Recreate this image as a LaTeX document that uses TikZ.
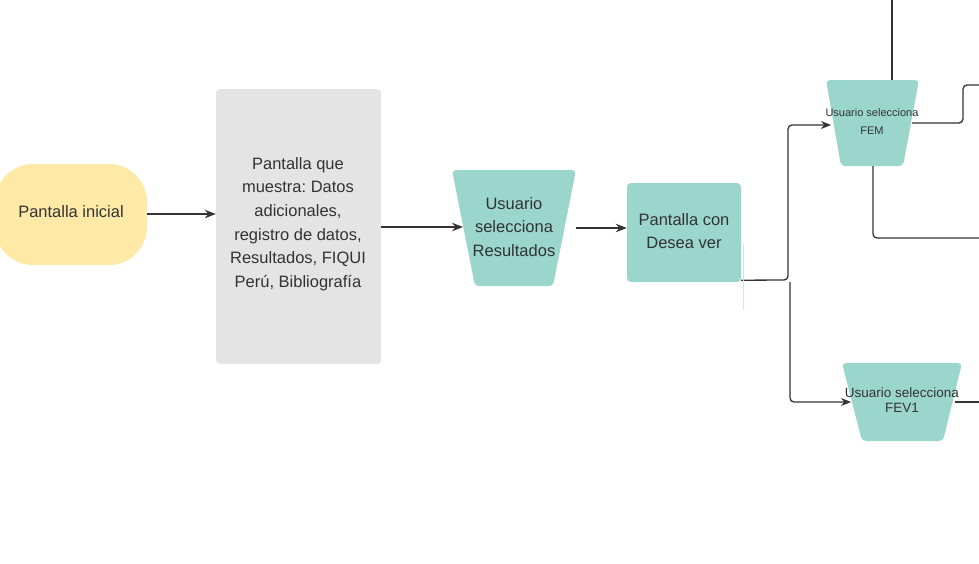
\documentclass[tikz,border=0pt]{standalone}
\usepackage{fontspec}
\setmainfont{Liberation Sans}
\usetikzlibrary{arrows.meta}
\definecolor{teal1}{HTML}{9AD6CB}
\definecolor{yell}{HTML}{FFE9A6}
\definecolor{grayb}{HTML}{E4E4E4}
\definecolor{ink}{HTML}{333333}
\frenchspacing
\tikzset{
  txt/.style={text=ink, align=center, inner sep=0pt, font=\fontsize{16.5}{23.6}\selectfont},
  small/.style={text=ink, align=center, inner sep=0pt, font=\fontsize{11}{18}\selectfont},
  mid/.style={text=ink, align=center, inner sep=0pt, font=\fontsize{13.5}{15}\selectfont},
  boxx/.style={rectangle, rounded corners=4pt, inner sep=0pt},
  trapfill/.style={fill=teal1, rounded corners=4pt},
  line/.style={draw=ink, line width=1.5pt},
  arr/.style={line, -{Stealth[length=11pt,width=8.5pt]}},
  thinarr/.style={draw=ink, line width=1.3pt, -{Stealth[length=10pt,width=8pt]}},
}
\begin{document}
\begin{tikzpicture}[x=1pt,y=-1pt]
\useasboundingbox (0,0) rectangle (979,563);
\clip (0,0) rectangle (979,563);
\fill[white] (0,0) rectangle (979,563);
% nodes
\node[boxx, fill=yell, rounded corners=38pt, minimum width=152pt, minimum height=101pt] (ini) at (71,214.5) {};
\node[txt] (init) at (71,212) {Pantalla inicial};
\node[boxx, fill=grayb, minimum width=165pt, minimum height=275pt] (gray) at (298.5,226.5) {};
\node[txt] (grayt) at (298,224) {Pantalla que\\muestra: Datos\\adicionales,\\registro de datos,\\Resultados, FIQUI\\Perú, Bibliografía};
% trapezoid 1
\fill[trapfill] (452,170) -- (576,170) -- (553,286) -- (475,286) -- cycle;
\coordinate (t1w) at (463,227);
\coordinate (t1e) at (576,228);
\node[txt] (t1t) at (514,227) {Usuario\\selecciona\\Resultados};
\node[boxx, fill=teal1, minimum width=114pt, minimum height=99pt] (d) at (684,232.5) {};
\node[txt] (dt) at (684,231) {Pantalla con\\Desea ver};
% FEM
\fill[trapfill] (826,80) -- (919,80) -- (903,166) -- (841,166) -- cycle;
\coordinate (femw) at (831,125);
\coordinate (feme) at (912,123);
\coordinate (femn) at (892,80);
\coordinate (fems) at (873,166);
\node[small] (femt) at (872,122) {Usuario selecciona\\FEM};
% FEV1
\fill[trapfill] (842,363) -- (962,363) -- (943,441) -- (862,441) -- cycle;
\coordinate (fevw) at (851,402);
\coordinate (feve) at (955,402);
\node[mid] (fevt) at (902,400.5) {Usuario selecciona\\FEV1};
% coordinates
\coordinate (top) at (892,0);
\coordinate (j1) at (788,280);
\coordinate (j2) at (790,282);
\coordinate (r1) at (963,123);
\coordinate (r1e) at (979,85);
\coordinate (b1) at (873,238);
\coordinate (b1e) at (979,238);
\coordinate (fe) at (979,402);
\coordinate (a1) at (743,244);
\coordinate (a2) at (743,310);
% connectors
\draw[arr] (ini.east |- 0,214) -- (gray.west |- 0,214);
\draw[arr] (gray.east |- 0,227) -- (t1w);
\draw[arr] (t1e) -- (d.west |- 0,228);
\draw[thinarr, rounded corners=4pt] ([yshift=2pt]d.south east) -- (j1) |- (femw);
\draw[thinarr, rounded corners=4pt] (j2) |- (fevw);
\draw[line, line width=1.3pt] (top) -- (femn);
\draw[line, line width=1.3pt, rounded corners=4pt] (feme) -- (r1) |- (r1e);
\draw[line, line width=1.3pt, rounded corners=4pt] (fems) |- (b1e);
\draw[line, line width=1.3pt] (feve) -- (fe);
\draw[teal1!50, line width=0.6pt] (a1) -- (a2);
\end{tikzpicture}
\end{document}
